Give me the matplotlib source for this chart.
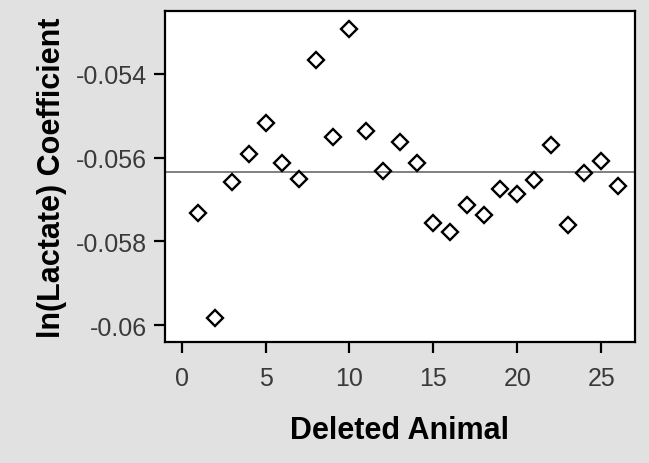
import matplotlib.pyplot as plt

plt.rcParams['font.family'] = ['Liberation Sans', 'DejaVu Sans']

# deleted animal index and the resulting coefficient
animal = list(range(1, 27))
coef = [-0.05732, -0.05983, -0.05657, -0.05592, -0.05517, -0.05612, -0.05651,
        -0.05367, -0.05551, -0.05292, -0.05537, -0.05632, -0.05562, -0.05612,
        -0.05756, -0.05778, -0.05712, -0.05736, -0.05676, -0.05687, -0.05653,
        -0.05571, -0.05762, -0.05637, -0.05607, -0.05668]
full_coef = -0.05634

bg = '#e1e1e1'
fig = plt.figure(figsize=(6.49, 4.64), dpi=100, facecolor=bg)
ax = fig.add_axes([0.254, 0.261, 0.724, 0.713])
ax.set_facecolor('white')

ax.axhline(full_coef, color='#808080', lw=1.4, zorder=1)
ax.plot(animal, coef, linestyle='none', marker='D', ms=8, mfc='none',
        mec='black', mew=1.7, zorder=2)

ax.set_xlim(-1, 27)
ax.set_ylim(-0.0604, -0.0525)
ax.set_xticks([0, 5, 10, 15, 20, 25])
ax.set_yticks([-0.054, -0.056, -0.058, -0.06])
ax.set_yticklabels(['-0.054', '-0.056', '-0.058', '-0.06'])

for s in ax.spines.values():
    s.set_linewidth(1.6)
ax.tick_params(direction='out', length=8, width=1.6, labelsize=18,
               labelcolor='#3a3a3a')
ax.tick_params(axis='x', pad=9)
ax.tick_params(axis='y', pad=5)

ax.set_xlabel('Deleted Animal', fontsize=22, fontweight='bold', labelpad=18)
ax.set_ylabel('ln(Lactate) Coefficient', fontsize=22, fontweight='bold', labelpad=6)

fig.savefig('out.png', dpi=100, facecolor=bg)
